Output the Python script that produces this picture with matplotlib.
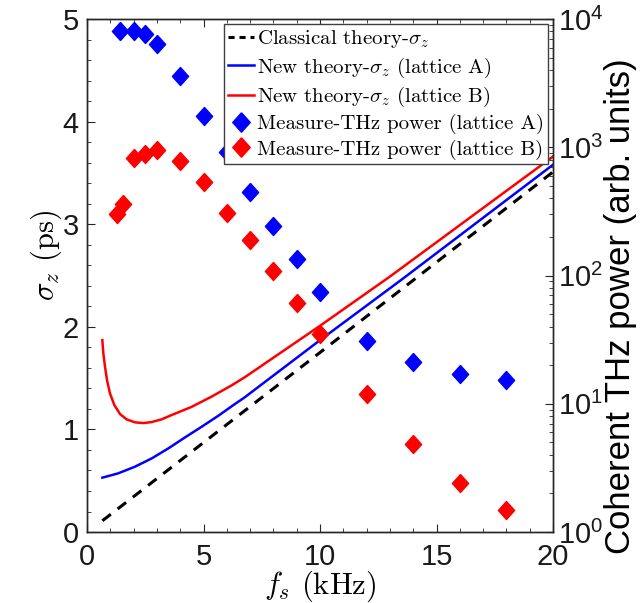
import matplotlib
matplotlib.use('Agg')
import matplotlib.pyplot as plt
from matplotlib.lines import Line2D
from matplotlib.ticker import MultipleLocator, LogLocator, NullFormatter

plt.rcParams['font.family'] = 'Liberation Sans'
plt.rcParams['mathtext.fontset'] = 'cm'

# bunch length (ps) vs synchrotron frequency f_s (kHz)
fs_classical    = [0.66, 10.0, 20.0]
sigma_classical = [0.11, 1.75, 3.51]

fs_new_a    = [0.66, 1.34, 2.06, 2.78, 3.49, 4.21, 4.92, 5.64, 6.35, 6.75, 10.0, 13.5, 20.0]
sigma_new_a = [0.53, 0.572, 0.637, 0.718, 0.815, 0.923, 1.026, 1.134, 1.248, 1.31, 1.87, 2.46, 3.58]

fs_new_b    = [0.658, 0.701, 0.773, 0.858, 0.987, 1.173, 1.416, 1.702, 2.06, 2.42, 2.78, 3.2,
               3.63, 4.49, 5.35, 6.21, 6.78, 10.0, 13.0, 20.0]
sigma_new_b = [1.871, 1.741, 1.611, 1.481, 1.351, 1.238, 1.150, 1.098, 1.069, 1.062, 1.072, 1.098,
               1.14, 1.22, 1.32, 1.43, 1.51, 2.01, 2.49, 3.66]

# measured coherent THz power (arb. units)
fs_meas_a    = [1.4, 2, 2.5, 3, 4, 5, 6, 7, 8, 9, 10, 12, 14, 16, 18]
power_meas_a = [8110, 8110, 7600, 6350, 3610, 1753, 918, 448, 243, 134, 74.8, 31, 21, 17, 15.3]

fs_meas_b    = [1.3, 1.55, 2, 2.5, 3, 4, 5, 6, 7, 8, 9, 10, 12, 14, 16, 18]
power_meas_b = [302, 361, 820, 886, 952, 781, 533, 305, 189, 109, 61, 35.3, 12, 4.9, 2.4, 1.49]

axis_color = '#262626'
diamond = [(0, 1), (0.9, 0), (0, -1), (-0.9, 0), (0, 1)]
msize = 13

fig = plt.figure(figsize=(6.44, 6.03), dpi=100)
ax = fig.add_axes([0.1351, 0.1177, 0.7236, 0.8507])
ax2 = ax.twinx()

ax.plot(fs_classical, sigma_classical, color='k', lw=2.2, ls=(0, (3.5, 2.8)))
ax.plot(fs_new_a, sigma_new_a, color='#0000ff', lw=1.8)
ax.plot(fs_new_b, sigma_new_b, color='#ff0000', lw=1.8)

ax2.plot(fs_meas_a, power_meas_a, ls='none', marker=diamond, ms=msize, color='#0000ff', mec='#0000ff')
ax2.plot(fs_meas_b, power_meas_b, ls='none', marker=diamond, ms=msize, color='#ff0000', mec='#ff0000')

ax.set_xlim(0, 20)
ax.set_ylim(0, 5)
ax2.set_yscale('log')
ax2.set_ylim(1, 1e4)

ax.xaxis.set_major_locator(MultipleLocator(5))
ax.xaxis.set_minor_locator(MultipleLocator(1))
ax.yaxis.set_major_locator(MultipleLocator(1))
ax.yaxis.set_minor_locator(MultipleLocator(0.2))
ax2.yaxis.set_major_locator(LogLocator(base=10, numticks=10))
ax2.yaxis.set_minor_locator(LogLocator(base=10, subs=range(2, 10), numticks=20))
ax2.yaxis.set_minor_formatter(NullFormatter())

ax.tick_params(which='both', direction='in', top=True, right=False, colors=axis_color,
               labelcolor='#1a1a1a', labelsize=21)
ax.tick_params(which='major', length=6)
ax.tick_params(which='minor', length=3)
ax.tick_params(axis='x', pad=8)
ax.tick_params(axis='y', pad=6)
ax2.tick_params(which='both', direction='in', colors=axis_color, labelcolor='#1a1a1a', labelsize=21)
ax2.tick_params(which='major', length=6)
ax2.tick_params(which='minor', length=3)
for a in (ax, ax2):
    for s in a.spines.values():
        s.set_color(axis_color)
        s.set_linewidth(1.0)

ax.set_xlabel(r'$f_s$ (kHz)', family='cmr10', fontsize=22, labelpad=-2)
ax.set_ylabel(r'$\sigma_z$ (ps)', family='cmr10', fontsize=22)
ax.yaxis.set_label_coords(-0.05, 0.54)
ax2.set_ylabel('Coherent THz power (arb. units)', fontsize=25)
ax2.yaxis.label.set_verticalalignment('center')
ax2.yaxis.set_label_coords(1.144, 0.44)

handles = [
    Line2D([], [], color='k', lw=2.2, ls=(0, (2, 1.6))),
    Line2D([], [], color='#0000ff', lw=1.8),
    Line2D([], [], color='#ff0000', lw=1.8),
    Line2D([], [], ls='none', marker=diamond, ms=msize + 1, color='#0000ff'),
    Line2D([], [], ls='none', marker=diamond, ms=msize + 1, color='#ff0000'),
]
labels = [
    r'Classical theory-$\sigma_z$',
    r'New theory-$\sigma_z$ (lattice A)',
    r'New theory-$\sigma_z$ (lattice B)',
    'Measure-THz power (lattice A)',
    'Measure-THz power (lattice B)',
]
leg = ax2.legend(handles, labels, loc='upper right', bbox_to_anchor=(0.99, 0.99),
                 borderaxespad=0, prop={'family': 'cmr10', 'size': 15},
                 handlelength=1.25, handletextpad=0.15, labelspacing=0.25, borderpad=0.2,
                 fancybox=False, framealpha=1, edgecolor='#404040')
leg.get_frame().set_linewidth(1.0)

fig.savefig('out.png', dpi=100)
